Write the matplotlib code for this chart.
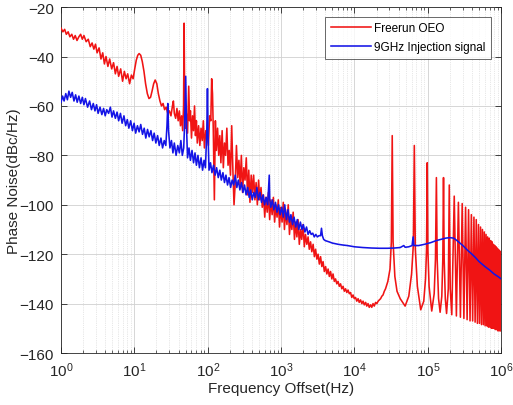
import matplotlib
matplotlib.use("Agg")
import matplotlib.pyplot as plt
from matplotlib.ticker import LogLocator, NullFormatter, LogFormatterMathtext

plt.rcParams['font.family'] = ['Liberation Sans', 'DejaVu Sans']

# ---- Freerun OEO (red) ----
red_f = [1.0, 1.06, 1.12, 1.18, 1.25, 1.32, 1.4, 1.48, 1.56, 1.65, 1.75, 1.85, 1.95, 2.05, 2.2, 2.35,
         2.5, 2.65, 2.8, 2.95, 3.1, 3.3, 3.5, 3.7, 3.9, 4.1, 4.35, 4.6, 4.9, 5.2, 5.5, 5.8, 6.1, 6.5,
         6.9, 7.3, 7.7, 8.1, 8.6, 9.1, 9.6, 10.1, 10.6, 11.1, 11.6, 12.2, 12.8, 13.5, 14.2, 15.0, 15.8,
         16.6, 17.4, 18.3, 19.2, 20.2, 21.2, 22.3, 23.4, 24.6, 25.8, 27.1, 28.5, 30, 31.5, 33, 34, 35,
         36.5, 38, 39.5, 41, 42.5, 44, 45.5, 46.8, 47.6, 48.4, 49.5, 51, 53, 55, 56.5, 58, 60, 62, 64,
         66, 68, 70, 72, 75, 78, 81, 84, 87, 90, 94, 98, 102, 106, 110, 113, 116, 119, 123, 127, 131,
         136, 141, 146, 151, 157, 163, 169, 175, 182, 189, 196, 204, 212, 220, 228, 237, 246, 256,
         266, 276, 287, 298, 310, 322, 335, 348, 362, 376, 391, 406, 422, 439, 456, 474, 493, 512,
         532, 553, 575, 598, 621, 646, 671, 698, 725, 754, 784, 815, 847, 880, 915, 951, 988, 1030,
         1070, 1110, 1150, 1200, 1250, 1300, 1350, 1400, 1460, 1520, 1580, 1640, 1700, 1770, 1840,
         1910, 1990, 2070, 2150, 2240, 2330, 2420, 2520, 2620, 2730, 2840, 2950, 3070, 3190, 3320,
         3450, 3590, 3730, 3880, 4040, 4200, 4370, 4540, 4720, 4910, 5100, 5310, 5520, 5740, 5970,
         6210, 6460, 6720, 6990, 7270, 7560, 7860, 8170, 8500, 8840, 9190, 9560, 9940, 10340, 10750,
         11200, 11600, 12100, 12600, 13100, 13600, 14200, 14700, 15300, 15900, 16600, 17200, 17900,
         18600, 19400, 20200, 21000, 21800, 22700, 23600, 24500, 25500,
         26500, 28500, 30500, 31800, 32700, 33600, 35500, 38000, 42000, 49000, 55000, 60000, 63500,
         65400, 67500, 72000, 80000, 88000, 93000, 96000, 98100, 100000, 104000, 113000, 122000,
         127000, 130800, 134000, 140000, 147000, 155000, 160000, 163500, 167000, 173000, 180000,
         190000, 196000, 202000, 212000, 229000, 245000, 261000, 278000, 294000, 310000, 327000,
         343000, 359000, 376000, 392000, 408000, 425000, 441000, 457000, 474000, 490000, 506000,
         523000, 539000, 555000, 572000, 588000, 604000, 621000, 637000, 653000, 670000, 686000,
         702000, 719000, 735000, 751000, 768000, 784000, 800000, 817000, 833000, 849000, 866000,
         882000, 898000, 915000, 931000, 947000, 964000, 980000, 1000000]
red_db = [-28.5, -30, -29, -31, -30, -32, -31, -33, -31.5, -33.5, -32, -31, -33, -31.5, -34, -33,
          -36, -34.5, -37, -35, -38.5, -36.5, -41, -38.5, -43, -40, -44, -41, -45, -42.5, -47, -44,
          -48, -45, -50, -46, -49, -47, -51, -47.5, -49, -45, -41.5, -39.5, -38.8, -39.5, -42, -46,
          -51, -55, -57, -56.5, -54, -51, -49.5, -51, -55, -58, -60, -59, -61.5, -60.5, -63, -62, -64,
          -60, -58, -63, -65, -61, -66, -62, -68, -64, -70, -60, -26.5, -58, -69, -63, -71, -52, -66,
          -62, -73, -64, -70, -60, -72, -66, -75, -68, -76, -69, -74, -66, -77, -70, -72, -76, -64,
          -66, -49, -55, -70, -98, -66, -78, -69, -80, -72, -83, -70, -85, -75, -80, -69, -84, -78,
          -88, -68, -86, -100, -91, -76, -89, -82, -92, -80, -95, -85, -90, -81, -96, -86, -99, -88,
          -95, -88, -98, -91, -100, -90, -98, -93, -101, -96, -105, -97, -103, -95, -106, -98, -104,
          -97, -107, -100, -105, -98, -109, -101, -107, -99, -110, -102, -108, -100, -112, -105, -110,
          -103, -114, -107, -113, -106, -116, -110, -114, -108, -117, -112, -116, -113, -118, -115,
          -119, -116, -121, -118, -122, -120, -124, -121, -125, -123, -127, -125, -128, -126, -129,
          -127, -130, -128, -131, -130, -132, -131, -133, -132, -134, -133, -135, -134, -135.5, -134.5,
          -136, -135.5, -137.5, -136.5, -138, -137.5, -139, -138, -139.5, -138.5, -140, -139, -140.5,
          -139.5, -141, -140, -141.5, -140.5, -141.5, -140, -141, -139.5, -140, -139, -138.5, -138,
          -137, -136.5, -135,
          -134, -131, -126, -115, -72, -115, -129, -135, -138, -141, -137, -128, -116,
          -76, -118, -133, -142.5, -139, -130, -118, -83, -118, -133, -143, -136,
          -122, -89, -122, -138, -143.5, -137, -122, -89, -122, -138, -144,
          -134, -92, -134, -144.5, -96.5, -145, -99, -145.5, -99.5, -146, -101,
          -146.5, -102, -147, -104, -147, -105, -147.5, -106, -148, -108, -148,
          -109, -148.5, -110, -148.5, -111, -149, -112, -149, -113, -149.5, -113.5,
          -149.5, -114.5, -150, -115, -150, -116, -150, -116.5, -150.5, -117, -150.5,
          -117.5, -151, -118, -151, -118.5, -151, -119, -151]

# ---- 9GHz Injection signal (blue) ----
blue_f = [1.0, 1.05, 1.1, 1.16, 1.22, 1.28, 1.35, 1.42, 1.5, 1.58, 1.66, 1.75, 1.85, 1.95, 2.05, 2.15,
          2.3, 2.45, 2.6, 2.75, 2.9, 3.05, 3.2, 3.4, 3.6, 3.8, 4.0, 4.2, 4.45, 4.7, 4.95, 5.2, 5.5, 5.8,
          6.1, 6.45, 6.8, 7.2, 7.6, 8.0, 8.4, 8.9, 9.4, 9.9, 10.4, 11, 11.6, 12.2, 12.9, 13.6, 14.3,
          15.1, 15.9, 16.8, 17.7, 18.6, 19.6, 20.7, 21.8, 23, 24.2, 25.5, 26.8, 27.8, 28.5, 29.2, 30.5,
          32, 33.5, 35, 37, 39, 41, 43, 45, 47, 48.5, 50, 51.5, 53, 55.5, 58, 61, 64, 67, 70, 73.5, 77,
          81, 85, 89, 93, 97, 99, 101, 104, 109, 114, 120, 126, 132, 139, 146, 153, 161, 169, 177, 186,
          195, 205, 215, 226, 237, 249, 261, 274, 288, 302, 317, 333, 350, 367, 385, 404, 424, 445,
          467, 490, 515, 540, 567, 595, 625, 656, 689, 700, 723, 759, 797, 837, 879, 923, 969, 1020,
          1070, 1120, 1180, 1240, 1300, 1360, 1430, 1500, 1580, 1660, 1740, 1830, 1920, 2010, 2110,
          2220, 2330, 2450, 2570, 2700, 2830, 2970, 3120, 3280, 3450, 3550, 3650, 3800, 4000, 4500,
          5000, 6000, 7000, 8000, 10000, 13000, 17000, 22000, 28000, 35000, 42000, 47000, 49000,
          55000, 61000, 63000, 64500, 75000, 90000, 110000, 130000, 150000, 175000, 200000, 225000,
          250000, 300000, 350000, 400000, 450000, 500000, 600000, 700000, 800000, 900000, 1000000]
blue_db = [-58.5, -56, -58, -55, -57.5, -54, -56.5, -54.5, -58, -55.5, -58.5, -56, -59, -56.5, -59.5,
           -57, -60.5, -58, -61.5, -59, -62, -59.5, -63, -60.5, -63.5, -61, -64, -61.5, -63, -60.5,
           -64.5, -62, -65, -62.5, -66, -63, -67, -64, -68, -65.5, -69, -66, -70, -67, -71, -68, -70.5,
           -67.5, -71.5, -69, -73, -69.5, -72.5, -70, -74, -71, -75, -72, -76, -73, -77, -74, -76, -68,
           -59, -70, -77, -74, -79, -75, -80, -76, -79, -74, -80, -77, -66, -48, -70, -81, -77, -82,
           -78, -83, -79, -84, -80, -85, -81, -86, -82, -85, -70, -53, -72, -86, -83, -87, -84, -88,
           -85, -89, -86, -90, -87, -91, -88, -92, -89, -93, -90, -92, -88, -93, -90, -94, -91, -95,
           -92, -96, -93, -97, -94, -98, -95, -97, -93, -98, -95, -99, -96, -100, -97, -100, -88, -98,
           -101, -98, -102, -99, -103, -100, -104, -101, -105, -100, -106, -102, -107, -104, -108,
           -105, -109, -106, -110, -107, -110, -108, -111, -109, -112, -110.5, -112, -111.5, -113,
           -112, -113, -112.5, -112.5, -109.5, -112.5, -114, -114.5, -115, -115.5, -116, -116.3,
           -116.5, -117, -117.3, -117.5, -117.6, -117.6, -117.5, -117.3, -116.5, -117.2, -117, -116.5,
           -113, -116.5, -116.5, -116, -115.3, -114.5, -114, -113.5, -113.3, -113.5, -114.5, -116.5,
           -118.5, -120, -121.5, -123, -125, -126.5, -128, -129, -130]

x_ticks = [1, 10, 100, 1000, 10000, 100000, 1000000]
y_ticks = [-160, -140, -120, -100, -80, -60, -40, -20]
legend_labels = ["Freerun OEO", "9GHz Injection signal"]
x_label = "Frequency Offset(Hz)"
y_label = "Phase Noise(dBc/Hz)"

fig = plt.figure(figsize=(5.13, 4.06), dpi=100)
ax = fig.add_axes([0.119, 0.128, 0.858, 0.852])

ax.plot(red_f, red_db, color='#f01414', lw=1.15, label=legend_labels[0], zorder=3)
ax.plot(blue_f, blue_db, color='#1414e6', lw=1.15, label=legend_labels[1], zorder=4)

ax.set_xscale('log')
ax.set_xlim(1, 1e6)
ax.set_ylim(-160, -20)
ax.set_xticks(x_ticks)
ax.xaxis.set_major_formatter(LogFormatterMathtext())
ax.set_yticks(y_ticks)
ax.xaxis.set_minor_locator(LogLocator(base=10, subs=range(2, 10), numticks=20))
ax.xaxis.set_minor_formatter(NullFormatter())
ax.set_xlim(1, 1e6)

ax.grid(True, which='major', color='#d0d0d0', lw=0.6, ls='-')
ax.grid(True, which='minor', axis='x', color='#d0d0d0', lw=0.5, ls=':')
ax.set_axisbelow(True)

ax.tick_params(which='both', direction='in', top=True, right=True, colors='#262626',
               labelsize=11)
ax.tick_params(which='major', length=4, width=0.6, pad=5)
ax.tick_params(which='minor', length=2, width=0.5)
for s in ax.spines.values():
    s.set_color('#262626')
    s.set_linewidth(0.6)

ax.set_xlabel(x_label, fontsize=11, color='#262626')
ax.set_ylabel(y_label, fontsize=11, color='#262626')
ax.yaxis.set_label_coords(-0.09, 0.5)
ax.xaxis.set_label_coords(0.5, -0.082)

leg = ax.legend(loc='upper right', bbox_to_anchor=(0.977, 0.972), borderaxespad=0,
                fontsize=8.5, frameon=True, fancybox=False, handlelength=3.4,
                borderpad=0.45, labelspacing=0.6, handletextpad=0.3)
leg.get_frame().set_edgecolor('#262626')
leg.get_frame().set_linewidth(0.6)

fig.savefig('out.png', dpi=100)
